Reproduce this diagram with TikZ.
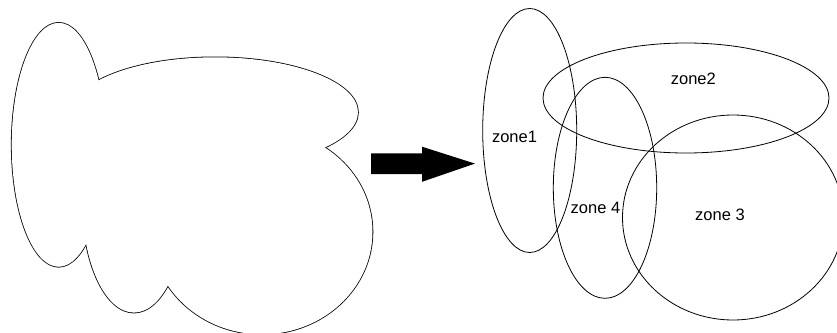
\documentclass[tikz,border=0pt]{standalone}
\usepackage{fontspec}
\setmainfont{Liberation Sans}
\usetikzlibrary{positioning}

\tikzset{
    zone/.style={draw, line width=0.8pt},
    zonelabel/.style={font=\fontsize{16.5}{19}\selectfont, inner sep=0pt},
}

\begin{document}
\begin{tikzpicture}[x=1pt, y=-1pt]
\useasboundingbox (0,0) rectangle (837,332);

% merged shape on the left: outline of the union of the four zones
\begin{scope}[shift={(-471,14.3)}]
    \foreach \cx/\cy/\rx/\ry in {529.7/130.5/47/122, 686/98/143/55,
                                 733/217.5/110.5/102.5, 605/187.8/51.7/110.5}
        \draw[line width=1.6pt] (\cx,\cy) ellipse [x radius=\rx, y radius=\ry];
    \foreach \cx/\cy/\rx/\ry in {529.7/130.5/47/122, 686/98/143/55,
                                 733/217.5/110.5/102.5, 605/187.8/51.7/110.5}
        \fill[white] (\cx,\cy) ellipse [x radius=\rx, y radius=\ry];
\end{scope}

% block arrow
\coordinate (tail) at (371,163.6);
\coordinate (tip) at (475,163.6);
\fill (tail) ++(0,-10.3) -- ++(51,0) -- ++(0,-6.6) -- (tip)
      -- ++(-53,18.2) -- ++(0,-7.7) -- ++(-51,0) -- cycle;

% the four zones
\coordinate (c1) at (529.7,130.5);
\coordinate (c2) at (686,98);
\coordinate (c3) at (733,217.5);
\coordinate (c4) at (605,187.8);
\path[zone] (c1) ellipse [x radius=47, y radius=122];
\path[zone] (c2) ellipse [x radius=143, y radius=55];
\path[zone] (c3) ellipse [x radius=110.5, y radius=102.5];
\path[zone] (c4) ellipse [x radius=51.7, y radius=110.5];

\node[zonelabel] (z1) at (514.5,136.7) {zone1};
\node[zonelabel] (z2) at (693.3,78.5) {zone2};
\node[zonelabel] (z3) at (720,215) {zone 3};
\node[zonelabel] (z4) at (595.5,208) {zone 4};
\end{tikzpicture}
\end{document}
